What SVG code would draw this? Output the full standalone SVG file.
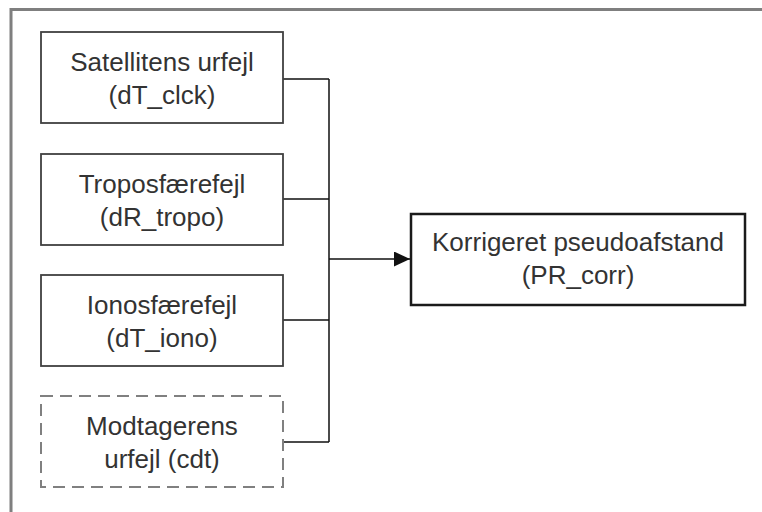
<svg xmlns="http://www.w3.org/2000/svg" width="762" height="512" viewBox="0 0 762 512">
<defs>
<style>
.box{fill:#fff;stroke:#404040;stroke-width:1.8}
.dash{fill:#fff;stroke:#808080;stroke-width:2;stroke-dasharray:12,7}
.main{fill:#fff;stroke:#1a1a1a;stroke-width:2.5}
.t{font-family:"Liberation Sans",Arial,sans-serif;font-size:26px;fill:#333;text-anchor:middle}
.c{fill:none;stroke:#111;stroke-width:1.5}
</style>
<marker id="arr" markerWidth="16" markerHeight="15" refX="16" refY="7.5" orient="auto" markerUnits="userSpaceOnUse" viewBox="0 0 16 15">
<path d="M0,0 L16,7.5 L0,15 z" fill="#111"/>
</marker>
</defs>
<rect width="762" height="512" fill="#fff"/>
<path d="M11,512 V9.5 H762" fill="none" stroke="#7f7f7f" stroke-width="3"/>
<g id="connectors">
<path class="c" d="M283,79 H329 M283,199 H329 M283,320 H329 M283,442 H329 M329,79 V442"/>
<path class="c" d="M329,259 H410" marker-end="url(#arr)"/>
</g>
<g id="n1"><rect class="box" x="41" y="32" width="242" height="91"/><text class="t" x="162" y="71">Satellitens urfejl</text><text class="t" x="162" y="104">(dT_clck)</text></g>
<g id="n2"><rect class="box" x="41" y="154" width="242" height="91"/><text class="t" x="162" y="193">Troposfærefejl</text><text class="t" x="162" y="226">(dR_tropo)</text></g>
<g id="n3"><rect class="box" x="41" y="275" width="242" height="91"/><text class="t" x="162" y="314">Ionosfærefejl</text><text class="t" x="162" y="347">(dT_iono)</text></g>
<g id="n4"><rect class="dash" x="41" y="396" width="242" height="91"/><text class="t" x="162" y="435">Modtagerens</text><text class="t" x="162" y="468">urfejl (cdt)</text></g>
<g id="n5"><rect class="main" x="411" y="214" width="334" height="91"/><text class="t" x="578" y="251">Korrigeret pseudoafstand</text><text class="t" x="578" y="284">(PR_corr)</text></g>
</svg>
